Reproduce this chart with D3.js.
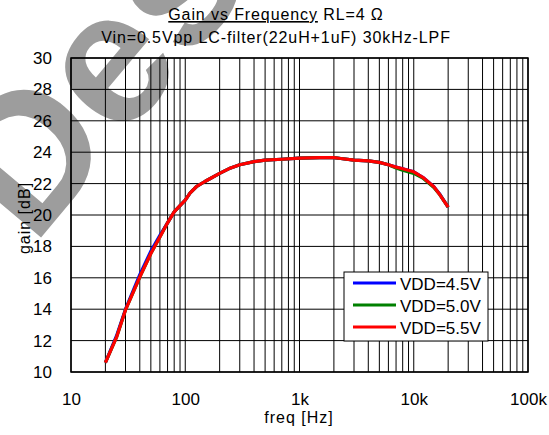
<!DOCTYPE html>
<html><head><meta charset="utf-8">
<script src="https://cdn.jsdelivr.net/npm/d3@7"></script>
<style>body{margin:0;background:#fff}svg{display:block}text{font-family:"Liberation Sans",Arial,sans-serif;fill:#000}</style>
</head><body>
<svg id="c" width="549" height="435"></svg>
<script>
const freqs = [20,25,30,40,50,60,70,80,90,100,110,125,150,200,250,300,400,500,700,1000,1500,2000,2300,3000,4000,5000,6000,7000,8000,10000,12000,15000,17000,20000];
const vdd45 = [10.6,12.3,14.0,16.2,17.7,18.7,19.5,20.2,20.6,20.95,21.4,21.8,22.15,22.65,23.0,23.2,23.4,23.5,23.55,23.62,23.65,23.65,23.6,23.5,23.45,23.35,23.2,23.05,22.95,22.75,22.4,21.8,21.3,20.5];
const vdd50 = [10.6,12.2,13.95,16.05,17.55,18.6,19.5,20.2,20.6,20.95,21.4,21.8,22.15,22.65,23.0,23.2,23.4,23.5,23.55,23.62,23.65,23.65,23.6,23.5,23.45,23.35,23.2,23.0,22.85,22.65,22.35,21.75,21.27,20.5];
const vdd55 = [10.6,12.2,13.95,16.05,17.55,18.6,19.5,20.2,20.6,20.95,21.4,21.8,22.15,22.65,23.0,23.2,23.4,23.5,23.55,23.62,23.65,23.65,23.6,23.5,23.45,23.35,23.2,23.05,22.95,22.75,22.4,21.8,21.27,20.5];
const seriesNames = ["VDD=4.5V","VDD=5.0V","VDD=5.5V"];
const seriesColors = ["#0000ff","#008000","#ff0000"];
const xTicks = [10,100,1000,10000,100000];
const xTickLabels = ["10","100","1k","10k","100k"];
const yTicks = [10,12,14,16,18,20,22,24,26,28,30];

const svg = d3.select("#c");
const L=71,R=528,T=58,B=372;
const x = d3.scaleLog().domain([10,100000]).range([L,R]);
const y = d3.scaleLinear().domain([10,30]).range([B,T]);

// watermark
svg.append("text").attr("transform","translate(33,247) rotate(-50)")
  .style("font-weight","bold")
  .style("font-size","188px").style("fill","#9d9d9d").text("Des");

// grid
const minor=[];
for(let d=10; d<100000; d*=10) for(let k=1;k<10;k++) minor.push(d*k);
minor.push(100000);
svg.append("g").selectAll("line").data(minor).join("line")
  .attr("x1",d=>x(d)).attr("x2",d=>x(d)).attr("y1",T).attr("y2",B)
  .attr("stroke","#000").attr("stroke-width",1);
svg.append("g").selectAll("line").data(yTicks).join("line")
  .attr("x1",L).attr("x2",R).attr("y1",d=>y(d)).attr("y2",d=>y(d))
  .attr("stroke","#000").attr("stroke-width",1);
svg.append("rect").attr("x",L).attr("y",T).attr("width",R-L).attr("height",B-T)
  .attr("fill","none").attr("stroke","#000").attr("stroke-width",1.5);

// axes labels
const xa = d3.axisBottom(x).tickValues(xTicks).tickFormat((d,i)=>xTickLabels[i]).tickSize(0).tickPadding(21);
const gx = svg.append("g").attr("transform",`translate(0,${B})`).call(xa);
gx.select(".domain").remove();
gx.selectAll("text").style("font-size","17px").style("font-family","'Liberation Sans',Arial,sans-serif");
const ya = d3.axisLeft(y).tickValues(yTicks).tickSize(0).tickPadding(19);
const gy = svg.append("g").attr("transform",`translate(${L},0)`).call(ya);
gy.select(".domain").remove();
gy.selectAll("text").style("font-size","17px").style("font-family","'Liberation Sans',Arial,sans-serif");

svg.append("text").attr("x",299).attr("y",423).attr("text-anchor","middle").style("font-size","16px").style("letter-spacing","1px").text("freq [Hz]");
svg.append("text").attr("transform","translate(30,218) rotate(-90)").attr("text-anchor","middle").style("font-size","16px").style("letter-spacing","1px").text("gain [dB]");

// title
const t1 = svg.append("text").attr("x",276).attr("y",20).attr("text-anchor","middle").style("font-size","16px").style("letter-spacing","0.9px");
t1.append("tspan").style("text-decoration","underline").text("Gain vs Frequency");
t1.append("tspan").text(" RL=4 Ω");
svg.append("text").attr("x",276).attr("y",43).attr("text-anchor","middle").style("font-size","16px").style("letter-spacing","0.9px").text("Vin=0.5Vpp LC-filter(22uH+1uF) 30kHz-LPF");

// series
const allSeries=[vdd45,vdd50,vdd55];
const line = d3.line().x(d=>x(d[0])).y(d=>y(d[1]));
allSeries.forEach((s,i)=>{
  svg.append("path").datum(freqs.map((f,j)=>[f,s[j]]))
    .attr("d",line).attr("fill","none").attr("stroke",seriesColors[i]).attr("stroke-width",3.2).attr("stroke-linejoin","round");
});

// legend
const lg = svg.append("g");
lg.append("rect").attr("x",344).attr("y",272).attr("width",144).attr("height",69).attr("fill","#fff").attr("stroke","#000").attr("stroke-width",1);
seriesNames.forEach((n,i)=>{
  const yy = 283 + i*22;
  lg.append("line").attr("x1",353).attr("x2",396).attr("y1",yy).attr("y2",yy).attr("stroke",seriesColors[i]).attr("stroke-width",3.2);
  lg.append("text").attr("x",400).attr("y",yy+7).style("font-size","17px").text(n);
});
</script>
</body></html>
